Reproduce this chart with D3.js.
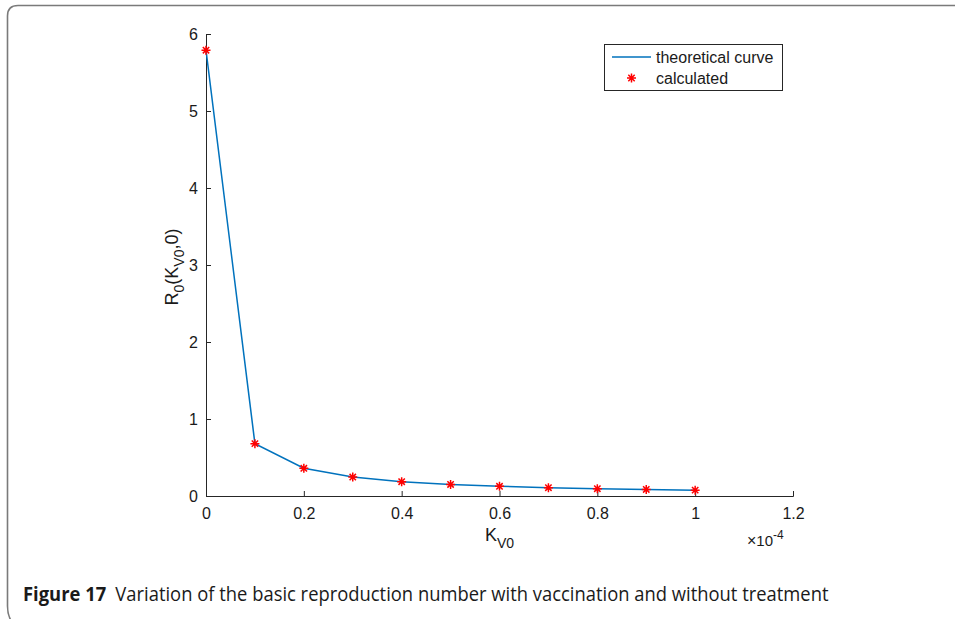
<!DOCTYPE html>
<html><head><meta charset="utf-8">
<script src="https://cdn.jsdelivr.net/npm/d3@7"></script>
<style>html,body{margin:0;padding:0;background:#fff;}svg{display:block;}</style>
</head><body>
<svg id="c" width="955" height="619"></svg>
<script>
const kv0 = [0, 0.1, 0.2, 0.3, 0.4, 0.5, 0.6, 0.7, 0.8, 0.9, 1.0];
const theoretical = [5.79, 0.68, 0.36, 0.246, 0.186, 0.15, 0.126, 0.108, 0.095, 0.085, 0.076];
const calculated = [5.79, 0.68, 0.36, 0.246, 0.186, 0.15, 0.126, 0.108, 0.095, 0.085, 0.076];
const xTicks = [0, 0.2, 0.4, 0.6, 0.8, 1, 1.2];
const yTicks = [0, 1, 2, 3, 4, 5, 6];
const legendLabels = ["theoretical curve", "calculated"];
const captionBold = "Figure 17";
const captionText = "Variation of the basic reproduction number with vaccination and without treatment";

const svg = d3.select("#c");
const axisColor = "#262626";
const font = "'Liberation Sans', Arial, sans-serif";

// frame
svg.append("path")
  .attr("d", "M 955 5.5 L 18 5.5 Q 7.5 5.5 7.5 16 L 7.5 606 Q 7.5 616 12 622")
  .attr("fill", "none").attr("stroke", "#7a7a7a").attr("stroke-width", 1.6);

const x = d3.scaleLinear().domain([0, 1.2]).range([206, 793]);
const y = d3.scaleLinear().domain([0, 6]).range([496, 34]);

const gx = svg.append("g").attr("transform", "translate(0,496)")
  .call(d3.axisBottom(x).tickValues(xTicks).tickSize(-5).tickPadding(8).tickFormat(d3.format("~g")));
const gy = svg.append("g").attr("transform", "translate(206,0)")
  .call(d3.axisLeft(y).tickValues(yTicks).tickSize(-5).tickPadding(8).tickFormat(d3.format("~g")));
[gx, gy].forEach(g => {
  g.attr("font-size", 16).attr("font-family", font);
  g.select(".domain").attr("stroke", axisColor).attr("stroke-width", 1);
  g.selectAll(".tick line").attr("stroke", axisColor).attr("stroke-width", 1);
  g.selectAll(".tick text").attr("fill", "#1a1a1a").attr("font-size", 16).attr("font-family", font);
});
gx.selectAll(".tick text").attr("dy", "0.95em");

// line
const data = kv0.map((k, i) => ({k, t: theoretical[i], c: calculated[i]}));
svg.append("path").datum(data)
  .attr("d", d3.line().x(d => x(d.k)).y(d => y(d.t)))
  .attr("fill", "none").attr("stroke", "#0072BD").attr("stroke-width", 1.5);

function star(g, cx, cy, r) {
  const a = r * 0.7071;
  g.append("path")
    .attr("d", `M${cx-r},${cy}L${cx+r},${cy}M${cx},${cy-r}L${cx},${cy+r}M${cx-a},${cy-a}L${cx+a},${cy+a}M${cx-a},${cy+a}L${cx+a},${cy-a}`)
    .attr("stroke", "#ff0000").attr("stroke-width", 1.5).attr("fill", "none");
}
const mg = svg.append("g");
data.forEach(d => star(mg, x(d.k), y(d.c), 4.5));

// axis labels
const xl = svg.append("text").attr("x", 485).attr("y", 541).attr("fill", "#1a1a1a")
  .attr("font-family", font).attr("font-size", 18);
xl.append("tspan").text("K");
xl.append("tspan").attr("dy", 7).attr("font-size", 14).text("V0");

const yl = svg.append("text").attr("transform", "translate(178,267) rotate(-90)")
  .attr("text-anchor", "middle").attr("fill", "#1a1a1a")
  .attr("font-family", font).attr("font-size", 18);
yl.append("tspan").text("R");
yl.append("tspan").attr("dy", 6).attr("font-size", 14).text("0");
yl.append("tspan").attr("dy", -6).text("(K");
yl.append("tspan").attr("dy", 6).attr("font-size", 14).text("V0");
yl.append("tspan").attr("dy", -6).text(",0)");

const ex = svg.append("text").attr("x", 747).attr("y", 546).attr("fill", "#1a1a1a")
  .attr("font-family", font).attr("font-size", 15);
ex.append("tspan").attr("font-size", 16).text("\u00d7");
ex.append("tspan").text("10");
ex.append("tspan").attr("dy", -7).attr("font-size", 12).text("-4");

// legend
const lg = svg.append("g");
lg.append("rect").attr("x", 604.5).attr("y", 44.5).attr("width", 178).attr("height", 46)
  .attr("fill", "#fff").attr("stroke", axisColor).attr("stroke-width", 1);
lg.append("line").attr("x1", 612).attr("x2", 651).attr("y1", 57).attr("y2", 57)
  .attr("stroke", "#0072BD").attr("stroke-width", 1.5);
star(lg, 631.5, 78, 4.5);
legendLabels.forEach((t, i) => {
  lg.append("text").attr("x", 656).attr("y", 62.5 + i * 21).text(t)
    .attr("fill", "#1a1a1a").attr("font-family", font).attr("font-size", 16);
});

// caption (condensed look: natural font scaled horizontally)
const capG = svg.append("g");
const cap = capG.append("text").attr("x", 0).attr("y", 0).attr("fill", "#1a1a1a")
  .attr("font-family", "'Open Sans', 'Noto Sans', sans-serif").attr("font-size", 20);
const t1 = cap.append("tspan").attr("font-weight", "bold").text(captionBold);
const t2 = cap.append("tspan").attr("dx", 10).text(captionText);
const bb = cap.node().getBBox();
const target = 806;
capG.attr("transform", `translate(23,601) scale(${(target / bb.width).toFixed(4)},1)`);
</script>
</body></html>
